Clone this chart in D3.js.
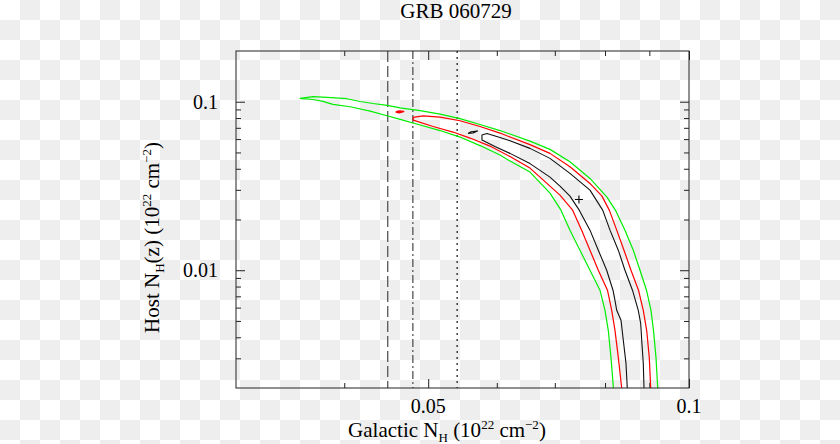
<!DOCTYPE html>
<html><head><meta charset="utf-8">
<script src="https://cdn.jsdelivr.net/npm/d3@7/dist/d3.min.js"></script>
<style>
body{margin:0;background:#fff;}
svg{display:block;}
text{font-family:"Liberation Serif","Times New Roman",serif;fill:#000;}
</style>
</head><body>
<svg id="chart" width="840" height="444"></svg>
<script>
// ---------- data ----------
const title = "GRB 060729";
const xDomain = [0.03, 0.1];
const yDomain = [0.002, 0.2];
const xMajorTicks = [0.05, 0.1];
const xMinorTicks = [0.04, 0.06, 0.07, 0.08, 0.09];
const yMajorTicks = [0.01, 0.1];
const yMinorTicks = [0.003, 0.004, 0.005, 0.006, 0.007, 0.008, 0.009,
                     0.02, 0.03, 0.04, 0.05, 0.06, 0.07, 0.08, 0.09];
const refLineValues = [0.0449, 0.0480, 0.0540]; // dashed, dash-dot, dotted
const bestFit = [0.07464, 0.02630];

// 99% contour (green): lower branch bottom -> tip -> upper branch bottom
const contour99 = [
  [0.0818,0.002],[0.08127,0.00304],[0.08069,0.00440],[0.07999,0.00578],[0.07893,0.00761],
  [0.07686,0.01],[0.07484,0.01315],[0.07288,0.01729],[0.07116,0.02273],[0.06911,0.02867],
  [0.06553,0.03823],[0.06214,0.04444],[0.06051,0.04824],[0.05738,0.05492],[0.05441,0.06170],
  [0.05160,0.06744],[0.04894,0.07273],[0.04641,0.07858],[0.04483,0.08254],[0.04285,0.08803],
  [0.04062,0.09339],[0.03882,0.09650],[0.03780,0.10055],[0.03681,0.10306],[0.03557,0.10476],
  [0.03681,0.10708],[0.03821,0.10620],[0.04029,0.10419],[0.04171,0.10027],[0.04318,0.09757],
  [0.04483,0.09520],[0.04641,0.09201],[0.04894,0.08863],[0.05160,0.08450],[0.05441,0.07945],
  [0.05738,0.07323],[0.06051,0.06744],[0.06214,0.06429],[0.06553,0.05840],[0.06911,0.05214],
  [0.07288,0.04401],[0.07686,0.03506],[0.08041,0.02715],[0.08236,0.02242],[0.08435,0.01729],
  [0.08624,0.01315],[0.08779,0.01],[0.08932,0.00761],[0.09039,0.00578],[0.09099,0.00440],
  [0.09160,0.00304],[0.09202,0.002]
];
// 90% contour (red)
const contour90 = [
  [0.08362,0.002],[0.08287,0.00304],[0.08214,0.00440],[0.08143,0.00578],[0.08052,0.00761],
  [0.07858,0.01],[0.07686,0.01315],[0.07518,0.01729],[0.07340,0.02273],[0.07097,0.02790],
  [0.06911,0.03156],[0.06553,0.04037],[0.06214,0.04726],[0.05892,0.05454],[0.05588,0.06086],
  [0.05341,0.06607],[0.05065,0.07125],[0.04805,0.07784],[0.04805,0.08076],[0.04933,0.08243],
  [0.05160,0.08109],[0.05441,0.07709],[0.05738,0.07125],[0.06051,0.06517],[0.06214,0.06170],
  [0.06553,0.05567],[0.06911,0.04937],[0.07288,0.04110],[0.07686,0.03274],[0.07935,0.02752],
  [0.08091,0.02273],[0.08252,0.01729],[0.08413,0.01315],[0.08571,0.01],[0.08744,0.00761],
  [0.08856,0.00578],[0.08936,0.00440],[0.08998,0.00304],[0.09032,0.002]
];
const island90 = [[0.04586,0.08686],[0.04628,0.08803],[0.04684,0.08745],[0.04628,0.08615],[0.04586,0.08686]];
// 68% contour (black)
const contour68 = [
  [0.08487,0.002],[0.08458,0.00280],[0.08398,0.00384],[0.08347,0.00505],[0.08252,0.00578],
  [0.08214,0.00663],[0.08171,0.00761],[0.08035,0.01],[0.07858,0.01315],[0.07686,0.01729],
  [0.07470,0.02273],[0.07288,0.02752],[0.07097,0.03156],[0.06911,0.03569],[0.06553,0.04294],
  [0.06214,0.04937],[0.05971,0.05417],[0.05768,0.05921],[0.05768,0.06341],[0.05845,0.06473],
  [0.06051,0.06128],[0.06214,0.05864],[0.06553,0.05286],[0.06911,0.04611],[0.07288,0.03755],
  [0.07686,0.02987],[0.07950,0.02273],[0.08106,0.01729],[0.08287,0.01315],[0.08435,0.01],
  [0.08605,0.00761],[0.08739,0.00578],[0.08795,0.00484],[0.08819,0.00384],[0.08856,0.00280],
  [0.08873,0.002]
];
const island68 = [[0.05558,0.06473],[0.05603,0.06625],[0.05700,0.06698],[0.05633,0.06526],[0.05558,0.06473]];

// ---------- layout ----------
const W = 840, H = 444;
const plot = {left: 236, right: 689, top: 51, bottom: 388};
const svg = d3.select("#chart");

// checkerboard background
const defs = svg.append("defs");
const pat = defs.append("pattern").attr("id","checker").attr("patternUnits","userSpaceOnUse")
  .attr("width",40).attr("height",40);
pat.append("rect").attr("width",40).attr("height",40).attr("fill","#ffffff");
pat.append("rect").attr("x",20).attr("y",0).attr("width",20).attr("height",20).attr("fill","#eeeeee");
pat.append("rect").attr("x",0).attr("y",20).attr("width",20).attr("height",20).attr("fill","#eeeeee");
svg.append("rect").attr("width",W).attr("height",H).attr("fill","url(#checker)");

defs.append("clipPath").attr("id","clip").append("rect")
  .attr("x",plot.left).attr("y",plot.top)
  .attr("width",plot.right-plot.left).attr("height",plot.bottom-plot.top);

const x = d3.scaleLog().domain(xDomain).range([plot.left, plot.right]);
const y = d3.scaleLog().domain(yDomain).range([plot.bottom, plot.top]);

const majorLen = 9, minorLen = 5;
const axisColor = "#222";
function styleAxis(g){
  g.select(".domain").remove();
  g.selectAll("line").attr("stroke",axisColor).attr("stroke-width",1);
  g.selectAll("text").remove();
}
// bottom / top
svg.append("g").attr("transform",`translate(0,${plot.bottom})`)
  .call(d3.axisBottom(x).tickValues(xMajorTicks).tickSize(-majorLen).tickFormat("")).call(styleAxis);
svg.append("g").attr("transform",`translate(0,${plot.bottom})`)
  .call(d3.axisBottom(x).tickValues(xMinorTicks).tickSize(-minorLen).tickFormat("")).call(styleAxis);
svg.append("g").attr("transform",`translate(0,${plot.top})`)
  .call(d3.axisTop(x).tickValues(xMajorTicks).tickSize(-majorLen).tickFormat("")).call(styleAxis);
svg.append("g").attr("transform",`translate(0,${plot.top})`)
  .call(d3.axisTop(x).tickValues(xMinorTicks).tickSize(-minorLen).tickFormat("")).call(styleAxis);
// left / right
svg.append("g").attr("transform",`translate(${plot.left},0)`)
  .call(d3.axisLeft(y).tickValues(yMajorTicks).tickSize(-majorLen).tickFormat("")).call(styleAxis);
svg.append("g").attr("transform",`translate(${plot.left},0)`)
  .call(d3.axisLeft(y).tickValues(yMinorTicks).tickSize(-minorLen).tickFormat("")).call(styleAxis);
svg.append("g").attr("transform",`translate(${plot.right},0)`)
  .call(d3.axisRight(y).tickValues(yMajorTicks).tickSize(-majorLen).tickFormat("")).call(styleAxis);
svg.append("g").attr("transform",`translate(${plot.right},0)`)
  .call(d3.axisRight(y).tickValues(yMinorTicks).tickSize(-minorLen).tickFormat("")).call(styleAxis);

// tick labels
const fmt = d => String(d);
svg.append("g").selectAll("text").data(xMajorTicks).join("text")
  .attr("x", d => x(d)).attr("y", plot.bottom + 25)
  .attr("text-anchor","middle").attr("font-size",20).text(fmt);
svg.append("g").selectAll("text").data(yMajorTicks).join("text")
  .attr("x", plot.left - 18).attr("y", d => y(d) + 7)
  .attr("text-anchor","end").attr("font-size",20).text(fmt);

// plot content
const content = svg.append("g").attr("clip-path","url(#clip)");
const refStyles = [
  {dash:"11,4", color:"#555"},
  {dash:"8,3,2,3", color:"#555"},
  {dash:"2,4", color:"#222"}
];
content.selectAll("line.ref").data(refLineValues).join("line").attr("class","ref")
  .attr("x1", d => x(d)).attr("x2", d => x(d))
  .attr("y1", plot.top).attr("y2", plot.bottom)
  .attr("stroke", (d,i) => refStyles[i].color)
  .attr("stroke-width", 1.3)
  .attr("stroke-dasharray", (d,i) => refStyles[i].dash);

const line = d3.line().x(d => x(d[0])).y(d => y(d[1]));
const curves = [
  {data: contour99, color: "#00ee00", w: 1.2},
  {data: contour90, color: "#ff0000", w: 1.2},
  {data: island90, color: "#ff0000", w: 1.6},
  {data: contour68, color: "#111111", w: 1.1},
  {data: island68, color: "#111111", w: 1.1}
];
content.selectAll("path.contour").data(curves).join("path").attr("class","contour")
  .attr("d", d => line(d.data)).attr("fill","none")
  .attr("stroke", d => d.color).attr("stroke-width", d => d.w)
  .attr("stroke-linejoin","round");

// best fit marker
const px = x(bestFit[0]), py = y(bestFit[1]);
content.append("path").attr("d", `M${px-4},${py}H${px+4}M${px},${py-4}V${py+4}`)
  .attr("stroke","#000").attr("stroke-width",1.1);

// frame
svg.append("rect").attr("x",plot.left).attr("y",plot.top)
  .attr("width",plot.right-plot.left).attr("height",plot.bottom-plot.top)
  .attr("fill","none").attr("stroke",axisColor).attr("stroke-width",1);

// title
svg.append("text").attr("x",456).attr("y",18).attr("text-anchor","middle")
  .attr("font-size",21).text(title);

// x label
const xl = svg.append("text").attr("x",447).attr("y",437).attr("text-anchor","middle").attr("font-size",21);
xl.append("tspan").text("Galactic N");
xl.append("tspan").attr("font-size",13).attr("dy",5).text("H");
xl.append("tspan").attr("dy",-5).text(" (10");
xl.append("tspan").attr("font-size",13).attr("dy",-8).text("22");
xl.append("tspan").attr("dy",8).text(" cm");
xl.append("tspan").attr("font-size",13).attr("dy",-8).text("\u22122");
xl.append("tspan").attr("dy",8).text(")");

// y label
const yl = svg.append("text").attr("transform","translate(159,237.5) rotate(-90)")
  .attr("text-anchor","middle").attr("font-size",21);
yl.append("tspan").text("Host N");
yl.append("tspan").attr("font-size",13).attr("dy",5).text("H");
yl.append("tspan").attr("dy",-5).text("(z) (10");
yl.append("tspan").attr("font-size",13).attr("dy",-8).text("22");
yl.append("tspan").attr("dy",8).text(" cm");
yl.append("tspan").attr("font-size",13).attr("dy",-8).text("\u22122");
yl.append("tspan").attr("dy",8).text(")");
</script>
</body></html>
